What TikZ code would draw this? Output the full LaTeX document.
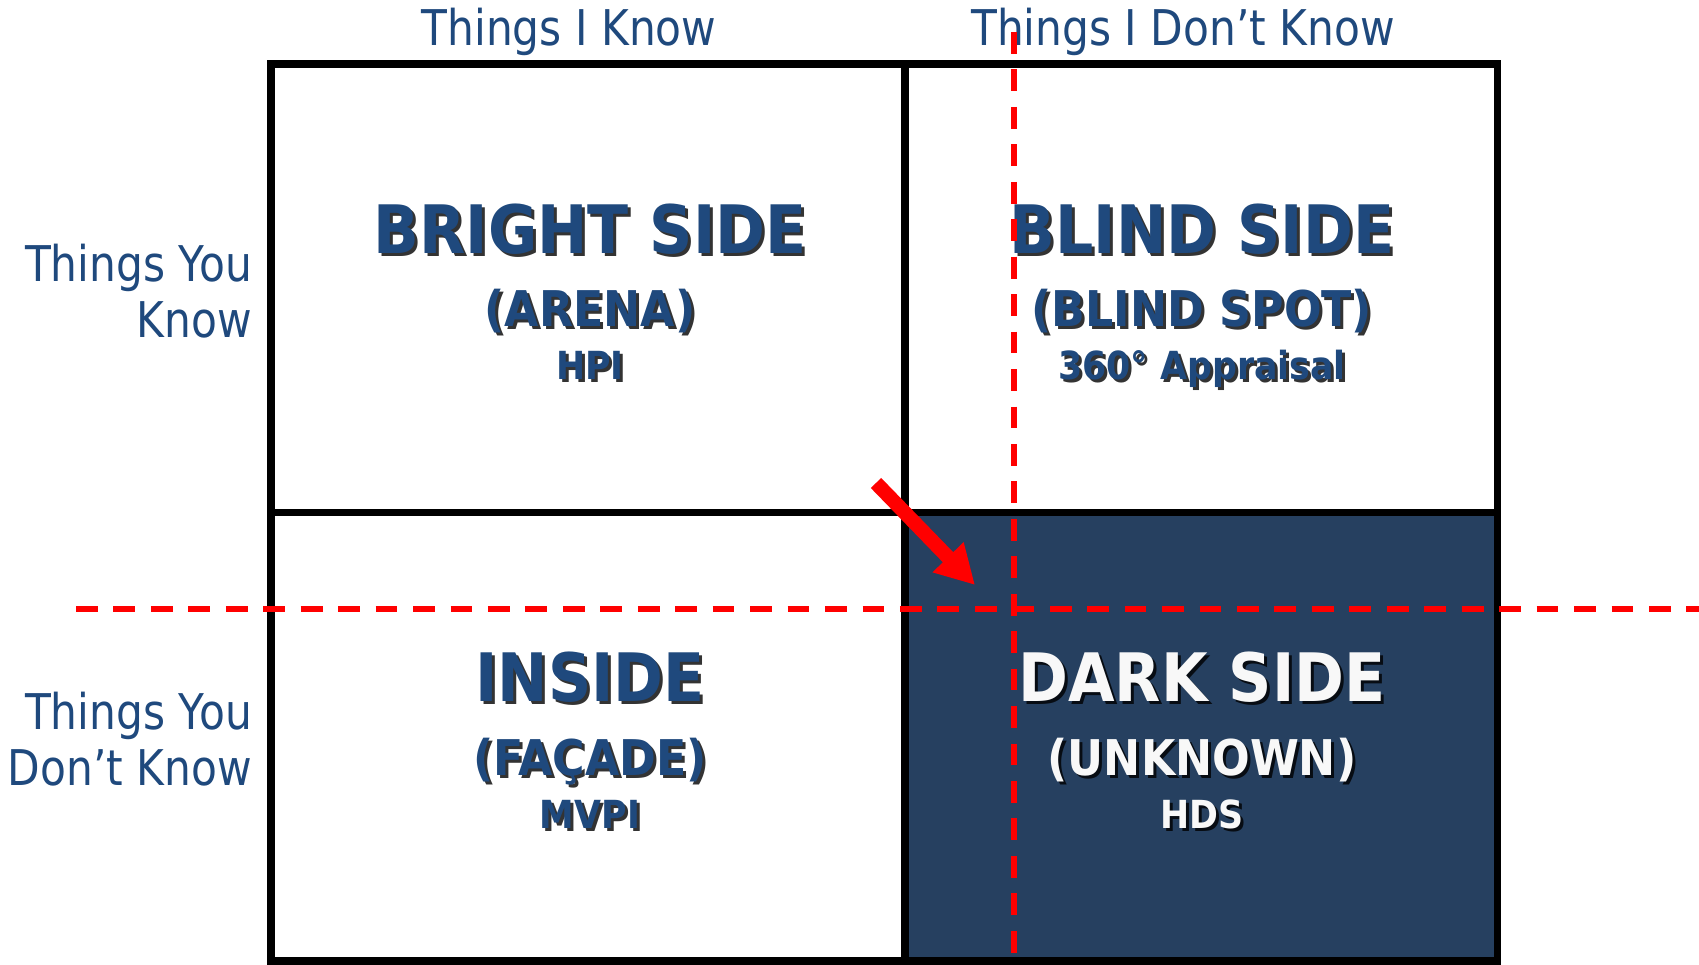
\documentclass[tikz,border=0pt]{standalone}
\usepackage{fontspec}
\usepackage{tikz}
\usetikzlibrary{arrows.meta,positioning}
\setmainfont{DejaVu Sans}
\newfontfamily\labelfont[FakeStretch=0.86]{DejaVu Sans}
\newfontfamily\headfont[FakeStretch=0.9]{DejaVu Sans}

\definecolor{johariblue}{RGB}{31,73,125}
\definecolor{darkpane}{RGB}{38,64,96}
\definecolor{paneWhite}{RGB}{248,248,248}
\definecolor{guidered}{RGB}{255,0,0}

\tikzset{
  grid line/.style={line width=2.1pt},
  axis label/.style={font=\labelfont\fontsize{14}{16.2}\selectfont, text=johariblue, inner sep=0pt},
  pane title/.style={font=\headfont\bfseries\fontsize{19}{22}\selectfont, inner sep=0pt, anchor=base},
  pane sub/.style={font=\headfont\bfseries\fontsize{14}{17}\selectfont, inner sep=0pt, anchor=base},
  pane tool/.style={font=\headfont\bfseries\fontsize{11}{13}\selectfont, inner sep=0pt, anchor=base},
  shade text/.style={text=black, opacity=0.8},
  guide/.style={guidered, line width=1.45pt, dash pattern=on 6.2pt off 4.45pt},
}

% text with a dark drop shadow: name, x,y, style, colour, text
\newcommand{\panetext}[5]{%
  \node[#3, shade text] at ([shift={(3,3)}]#2) {#5};
  \node[#3, text=#4] (#1) at (#2) {#5};
}

\begin{document}
\begin{tikzpicture}[x=0.01cm,y=-0.01cm]
  \useasboundingbox (0,0) rectangle (1699,965);

  % dark quarter
  \fill[darkpane] (905,512.5) rectangle (1497.5,961);

  % the window
  \draw[grid line] (271,64) rectangle (1497.5,961);
  \draw[grid line] (905,64) -- (905,961);
  \draw[grid line] (271,512.5) -- (1497.5,512.5);

  % axis labels
  \node[axis label, anchor=base] (iknow) at (569,46) {Things I Know};
  \node[axis label, anchor=base] (idontknow) at (1183,46) {Things I Don’t Know};
  \node[axis label, align=right, anchor=base east] (youknow) at (252.5,338) {Things You\\Know};
  \node[axis label, align=right, anchor=base east] (youdontknow) at (252.5,786) {Things You\\Don’t Know};

  % panes
  \panetext{bright}{590,254}{pane title}{johariblue}{BRIGHT SIDE}
  \panetext{arena}{590,327}{pane sub}{johariblue}{(ARENA)}
  \panetext{hpi}{590,380}{pane tool}{johariblue}{HPI}

  \panetext{blind}{1202,254}{pane title}{johariblue}{BLIND SIDE}
  \panetext{blindspot}{1202,327}{pane sub}{johariblue}{(BLIND SPOT)}
  \panetext{appraisal}{1202,380}{pane tool}{johariblue}{360° Appraisal}

  \panetext{inside}{590,702}{pane title}{johariblue}{INSIDE}
  \panetext{facade}{590,776}{pane sub}{johariblue}{(FAÇADE)}
  \panetext{mvpi}{590,829}{pane tool}{johariblue}{MVPI}

  \panetext{dark}{1202,702}{pane title}{paneWhite}{DARK SIDE}
  \panetext{unknown}{1202,776}{pane sub}{paneWhite}{(UNKNOWN)}
  \panetext{hds}{1202,829}{pane tool}{paneWhite}{HDS}

  % red guides
  \coordinate (vtop) at (1014,32);
  \coordinate (vbot) at (1014,953.5);
  \coordinate (hleft) at (76,609);
  \coordinate (hright) at (1699,609);
  \draw[guide] (vtop) -- (vbot);
  \draw[guide] (hleft) -- (hright);

  % arrow into the dark side
  \coordinate (arrowtail) at (876,483);
  \coordinate (arrowtip) at (975,585);
  \draw[guidered, line width=4.1pt, -{Triangle[length=11pt,width=11.5pt]}] (arrowtail) -- (arrowtip);
\end{tikzpicture}
\end{document}
